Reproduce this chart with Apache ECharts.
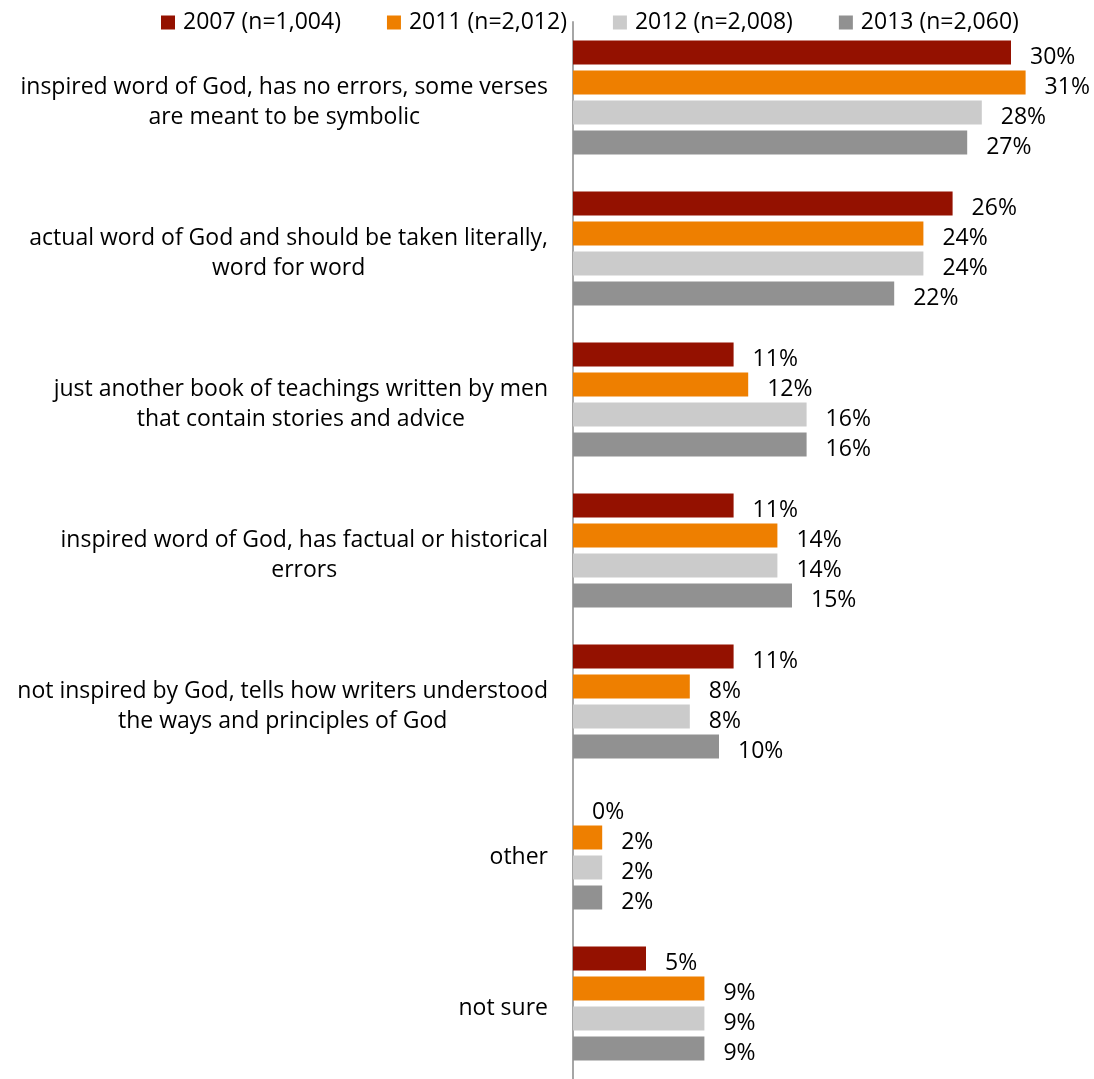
<!DOCTYPE html>
<html>
<head>
<meta charset="utf-8">
<script src="https://cdn.jsdelivr.net/npm/echarts@6/dist/echarts.min.js"></script>
<style>
  html, body { margin: 0; padding: 0; background: #fff; }
  #chart { width: 1094px; height: 1079px; }
</style>
</head>
<body>
<div id="chart"></div>
<script>
// Views of the Bible, share of respondents by survey year
const categories = [
  'inspired word of God, has no errors, some verses\nare meant to be symbolic',
  'actual word of God and should be taken literally,\nword for word',
  'just another book of teachings written by men\nthat contain stories and advice',
  'inspired word of God, has factual or historical\nerrors',
  'not inspired by God, tells how writers understood\nthe ways and principles of God',
  'other',
  'not sure'
];
const seriesNames = ['2007 (n=1,004)', '2011 (n=2,012)', '2012 (n=2,008)', '2013 (n=2,060)'];
const values2007 = [30, 26, 11, 11, 11, 0, 5];
const values2011 = [31, 24, 12, 14, 8, 2, 9];
const values2012 = [28, 24, 16, 14, 8, 2, 9];
const values2013 = [27, 22, 16, 15, 10, 2, 9];
const colors = ['#941100', '#ee7f00', '#cbcbcb', '#919191'];

const FONT = '"Open Sans", "Liberation Sans", sans-serif';
const FS = 23;
const allValues = [values2007, values2011, values2012, values2013];

const chart = echarts.init(document.getElementById('chart'), null, { renderer: 'canvas' });

chart.setOption({
  animation: false,
  backgroundColor: '#ffffff',
  textStyle: { fontFamily: FONT },
  legend: {
    left: 156,
    top: 6,
    itemWidth: 14,
    itemHeight: 14,
    itemGap: 46,
    icon: 'rect',
    textStyle: { fontFamily: FONT, fontSize: FS, color: '#000', padding: [0, 0, 0, 3] },
    data: seriesNames
  },
  grid: { left: 573, top: 22, height: 1062, right: 10, containLabel: false },
  xAxis: {
    type: 'value',
    min: 0,
    max: 35,
    show: false
  },
  yAxis: {
    type: 'category',
    inverse: true,
    data: categories,
    axisLine: { show: true, lineStyle: { color: '#a6a6a6', width: 2 } },
    axisTick: { show: false },
    axisLabel: {
      margin: 25,
      padding: [10, 0, 0, 0],
      formatter: (v) => v.split('\n').map(l => '{c|' + l + '}').join('\n'),
      rich: {
        c: { fontFamily: FONT, fontSize: FS, color: '#000', align: 'center', lineHeight: 30 }
      }
    }
  },
  series: seriesNames.map((name, i) => ({
    name,
    type: 'bar',
    data: allValues[i],
    barWidth: 24,
    barGap: '25%',
    itemStyle: { color: colors[i] },
    label: {
      show: true,
      position: 'right',
      distance: 19,
      offset: [0, 5],
      formatter: '{c}%',
      fontFamily: FONT,
      fontSize: FS,
      color: '#000'
    }
  }))
});
</script>
</body>
</html>
